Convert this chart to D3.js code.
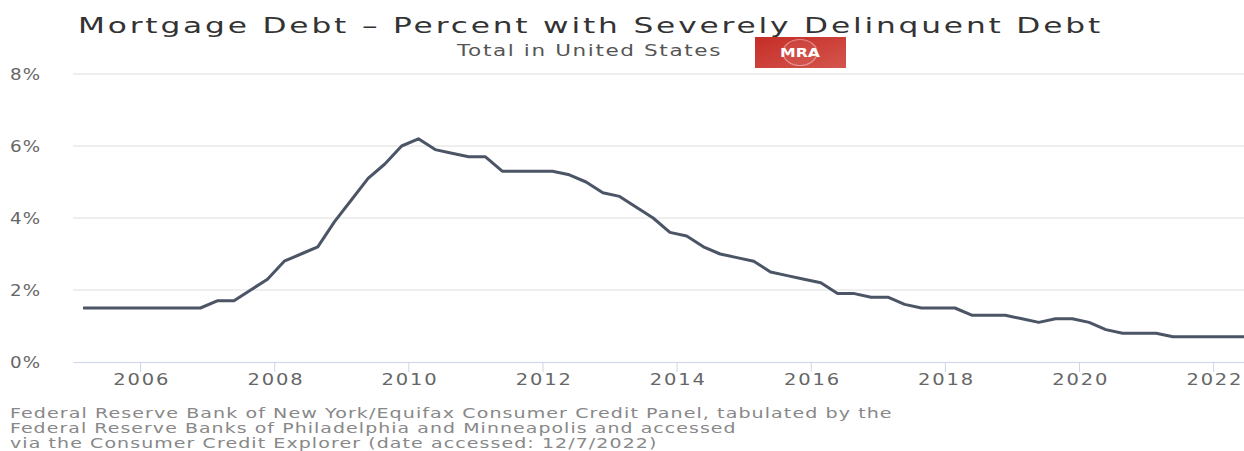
<!DOCTYPE html>
<html>
<head>
<meta charset="utf-8">
<script src="https://cdn.jsdelivr.net/npm/d3@7"></script>
<style>
  body { margin: 0; background: #fff; }
  svg { display: block; font-family: "DejaVu Sans", Verdana, sans-serif; }
</style>
</head>
<body>
<div id="chart"></div>
<script>
// quarterly observations, 2005 Q1 - 2022 Q3
var quarters = [
  "2005Q1","2005Q2","2005Q3","2005Q4","2006Q1","2006Q2","2006Q3","2006Q4",
  "2007Q1","2007Q2","2007Q3","2007Q4","2008Q1","2008Q2","2008Q3","2008Q4",
  "2009Q1","2009Q2","2009Q3","2009Q4","2010Q1","2010Q2","2010Q3","2010Q4",
  "2011Q1","2011Q2","2011Q3","2011Q4","2012Q1","2012Q2","2012Q3","2012Q4",
  "2013Q1","2013Q2","2013Q3","2013Q4","2014Q1","2014Q2","2014Q3","2014Q4",
  "2015Q1","2015Q2","2015Q3","2015Q4","2016Q1","2016Q2","2016Q3","2016Q4",
  "2017Q1","2017Q2","2017Q3","2017Q4","2018Q1","2018Q2","2018Q3","2018Q4",
  "2019Q1","2019Q2","2019Q3","2019Q4","2020Q1","2020Q2","2020Q3","2020Q4",
  "2021Q1","2021Q2","2021Q3","2021Q4","2022Q1","2022Q2","2022Q3"
];

// percent of mortgage debt severely delinquent
var pctSeverelyDelinquent = [
  1.5, 1.5, 1.5, 1.5, 1.5, 1.5, 1.5, 1.5,
  1.7, 1.7, 2.0, 2.3, 2.8, 3.0, 3.2, 3.9,
  4.5, 5.1, 5.5, 6.0, 6.2, 5.9, 5.8, 5.7,
  5.7, 5.3, 5.3, 5.3, 5.3, 5.2, 5.0, 4.7,
  4.6, 4.3, 4.0, 3.6, 3.5, 3.2, 3.0, 2.9,
  2.8, 2.5, 2.4, 2.3, 2.2, 1.9, 1.9, 1.8,
  1.8, 1.6, 1.5, 1.5, 1.5, 1.3, 1.3, 1.3,
  1.2, 1.1, 1.2, 1.2, 1.1, 0.9, 0.8, 0.8,
  0.8, 0.7, 0.7, 0.7, 0.7, 0.7, 0.7
];

var yearTicks = [2006, 2008, 2010, 2012, 2014, 2016, 2018, 2020, 2022];
var pctTicks = [0, 2, 4, 6, 8];

var titleText = "Mortgage Debt \u2013 Percent with Severely Delinquent Debt";
var subtitleText = "Total in United States";
var sourceLines = [
  "Federal Reserve Bank of New York/Equifax Consumer Credit Panel, tabulated by the",
  "Federal Reserve Banks of Philadelphia and Minneapolis and accessed",
  "via the Consumer Credit Explorer (date accessed: 12/7/2022)"
];

// the original picture is wide: glyphs are stretched sideways
var SX = 1.22;

// stretch a text (anchored at x,y) so it spans the given width
function fit(sel, x, y, w) {
  sel.each(function() {
    var n = this.getComputedTextLength();
    d3.select(this)
      .attr("transform", "translate(" + x + "," + y + ") scale(" + (w / n) + ",1)");
  });
}

window.onload = function() {

  var W = 1244, H = 451;
  var margin = {top: 74, right: 0, bottom: 89, left: 73};

  var svg = d3.select("#chart")
      .append("svg")
      .attr("width", W)
      .attr("height", H);

  // turn "2005Q1" into a decimal year, placed inside the quarter
  var data = quarters.map(function(q, i) {
    var yr = +q.slice(0, 4), qn = +q.slice(5);
    return {t: yr + (qn - 1) * 0.25 + 0.15, v: pctSeverelyDelinquent[i]};
  });

  var x = d3.scaleLinear()
      .domain([2005, 2022.46])
      .range([margin.left, W - margin.right]);

  var y = d3.scaleLinear()
      .domain([0, 8])
      .range([H - margin.bottom, margin.top]);

  // horizontal gridlines
  svg.append("g")
      .selectAll("line")
      .data(pctTicks.filter(function(d) { return d > 0; }))
      .join("line")
      .attr("x1", margin.left)
      .attr("x2", W - margin.right)
      .attr("y1", function(d) { return y(d); })
      .attr("y2", function(d) { return y(d); })
      .attr("stroke", "#dedede")
      .attr("stroke-width", 1);

  // y labels
  svg.append("g")
      .selectAll("text")
      .data(pctTicks)
      .join("text")
      .attr("transform", function(d) {
        return "translate(10," + (y(d) + 6) + ") scale(" + SX + ",1)";
      })
      .attr("font-size", 15)
      .attr("letter-spacing", 1)
      .attr("fill", "#666")
      .text(function(d) { return d + "%"; });

  // x axis
  var xAxis = d3.axisBottom(x)
      .tickValues(yearTicks)
      .tickFormat(d3.format("d"))
      .tickSize(10)
      .tickSizeOuter(0)
      .tickPadding(2);

  var gx = svg.append("g")
      .attr("transform", "translate(0," + y(0) + ")")
      .call(xAxis);
  gx.select(".domain").attr("stroke", "#ccd6eb");
  gx.selectAll(".tick line").attr("stroke", "#ccd6eb");
  gx.selectAll(".tick text")
      .attr("font-family", "DejaVu Sans, sans-serif")
      .attr("font-size", 16)
      .attr("letter-spacing", 1.5)
      .attr("dx", 1)
      .attr("transform", "scale(" + SX + ",1)")
      .attr("fill", "#666");

  // clip to plot
  svg.append("clipPath").attr("id", "plot")
    .append("rect")
      .attr("x", margin.left)
      .attr("y", 0)
      .attr("width", W - margin.left - margin.right)
      .attr("height", H);

  var line = d3.line()
      .x(function(d) { return x(d.t); })
      .y(function(d) { return y(d.v); });

  svg.append("path")
      .datum(data)
      .attr("clip-path", "url(#plot)")
      .attr("fill", "none")
      .attr("stroke", "#4b5566")
      .attr("stroke-width", 3)
      .attr("stroke-linejoin", "round")
      .attr("d", line);

  // title + subtitle
  svg.append("text")
      .attr("font-size", 22)
      .attr("letter-spacing", 2)
      .attr("fill", "#333")
      .text(titleText)
      .call(fit, 78, 33, 1025);

  svg.append("text")
      .attr("font-size", 16)
      .attr("letter-spacing", 1.2)
      .attr("fill", "#555")
      .text(subtitleText)
      .call(fit, 457, 56, 265);

  // MRA badge
  var grad = svg.append("defs").append("linearGradient")
      .attr("id", "badge").attr("x1", 0).attr("x2", 1).attr("y1", 0).attr("y2", 1);
  grad.append("stop").attr("offset", "0%").attr("stop-color", "#c52d27");
  grad.append("stop").attr("offset", "100%").attr("stop-color", "#d4554d");

  var badge = svg.append("g").attr("transform", "translate(755,37)");
  badge.append("rect")
      .attr("width", 91).attr("height", 31)
      .attr("fill", "url(#badge)");
  badge.append("ellipse")
      .attr("cx", 45).attr("cy", 15.5).attr("rx", 17).attr("ry", 13)
      .attr("fill", "#fff")
      .attr("fill-opacity", 0.06)
      .attr("stroke", "#fff")
      .attr("stroke-opacity", 0.4)
      .attr("stroke-width", 1.2);
  badge.append("text")
      .attr("font-size", 12)
      .attr("font-weight", "bold")
      .attr("fill", "#fff")
      .text("MRA")
      .call(fit, 25, 20, 40);

  // source note
  var widths = [883, 727, 648];
  svg.append("g")
      .selectAll("text")
      .data(sourceLines)
      .join("text")
      .attr("font-size", 14)
      .attr("letter-spacing", 0.8)
      .attr("fill", "#888")
      .text(function(d) { return d; })
      .each(function(d, i) {
        d3.select(this).call(fit, 10, 418 + i * 15, widths[i]);
      });
};
</script>
</body>
</html>
